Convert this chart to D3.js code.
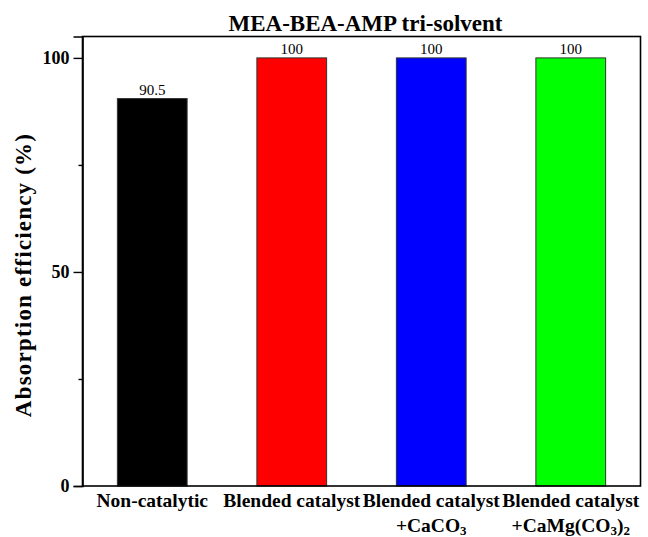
<!DOCTYPE html>
<html>
<head>
<meta charset="utf-8">
<script src="https://cdn.jsdelivr.net/npm/d3@7"></script>
<style>
  html, body { margin: 0; padding: 0; background: #fff; }
  svg { display: block; font-family: "Liberation Serif", "Times New Roman", serif; }
</style>
</head>
<body>
<div id="chart"></div>
<script>
const categories = ["Non-catalytic", "Blended catalyst", "Blended catalyst +CaCO3", "Blended catalyst +CaMg(CO3)2"];
const labelLine1 = ["Non-catalytic", "Blended catalyst", "Blended catalyst", "Blended catalyst"];
const labelLine2 = [null, null, [["+CaCO", false], ["3", true]], [["+CaMg(CO", false], ["3", true], [")", false], ["2", true]]];
const values = [90.5, 100, 100, 100];
const valueLabels = ["90.5", "100", "100", "100"];
const colors = ["#000000", "#ff0000", "#0000ff", "#00ff00"];
const majorTicks = [0, 50, 100];
const minorTicks = [25, 75];
const title = "MEA-BEA-AMP tri-solvent";
const yTitle = "Absorption efficiency (%)";

const W = 648, H = 537;
const margin = { left: 82.5, right: 7.5, top: 36.5, bottom: 51 };

const svg = d3.select("#chart").append("svg").attr("width", W).attr("height", H);

const x = d3.scaleBand().domain(categories)
  .range([margin.left, W - margin.right])
  .paddingInner(0.5).paddingOuter(0.25);
const y = d3.scaleLinear().domain([0, 105]).range([H - margin.bottom, margin.top]);

// bars
svg.append("g").selectAll("rect").data(categories).join("rect")
  .attr("x", d => x(d))
  .attr("y", (d, i) => y(values[i]))
  .attr("width", x.bandwidth())
  .attr("height", (d, i) => y(0) - y(values[i]))
  .attr("fill", (d, i) => colors[i])
  .attr("stroke", "#333")
  .attr("stroke-width", 1);

// value labels
svg.append("g").selectAll("text").data(categories).join("text")
  .attr("x", d => x(d) + x.bandwidth() / 2)
  .attr("y", (d, i) => y(values[i]) - 4)
  .attr("text-anchor", "middle")
  .attr("font-size", 15)
  .attr("fill", "#000")
  .text((d, i) => valueLabels[i]);

// frame
svg.append("rect")
  .attr("x", margin.left).attr("y", margin.top)
  .attr("width", W - margin.left - margin.right)
  .attr("height", H - margin.top - margin.bottom)
  .attr("fill", "none").attr("stroke", "#000").attr("stroke-width", 1.6);

// y axis
const yAxis = d3.axisLeft(y).tickValues(majorTicks).tickSize(9).tickPadding(4).tickFormat(d3.format("d"));
const gy = svg.append("g").attr("transform", `translate(${margin.left},0)`).call(yAxis);
gy.select(".domain").attr("stroke-width", 1.6);
gy.selectAll(".tick line").attr("stroke-width", 1.4);
gy.selectAll(".tick text").attr("font-size", 18).attr("font-weight", "bold")
  .attr("font-family", "Liberation Serif, Times New Roman, serif").attr("fill", "#000");
const yMinor = d3.axisLeft(y).tickValues(minorTicks).tickSize(4).tickFormat("");
const gym = svg.append("g").attr("transform", `translate(${margin.left},0)`).call(yMinor);
gym.select(".domain").remove();
gym.selectAll(".tick line").attr("stroke-width", 1.4);

// x labels
const xl = svg.append("g");
categories.forEach((c, i) => {
  const cx = x(c) + x.bandwidth() / 2;
  xl.append("text").attr("x", cx).attr("y", 507)
    .attr("text-anchor", "middle").attr("font-size", 19.5).attr("font-weight", "bold")
    .text(labelLine1[i]);
  if (labelLine2[i]) {
    const t = xl.append("text").attr("x", cx).attr("y", 532)
      .attr("text-anchor", "middle").attr("font-size", 19.5).attr("font-weight", "bold");
    labelLine2[i].forEach(([s, sub]) => {
      const ts = t.append("tspan").text(s);
      if (sub) ts.attr("font-size", 13).attr("baseline-shift", "-22%");
    });
  }
});

// title
svg.append("text")
  .attr("x", (margin.left + W - margin.right) / 2 + 4).attr("y", 30.5)
  .attr("text-anchor", "middle").attr("font-size", 23).attr("font-weight", "bold")
  .text(title);

// y title
svg.append("text")
  .attr("transform", `translate(31,275) rotate(-90)`)
  .attr("text-anchor", "middle").attr("font-size", 23).attr("font-weight", "bold")
  .attr("letter-spacing", 1.2)
  .text(yTitle);
</script>
</body>
</html>
